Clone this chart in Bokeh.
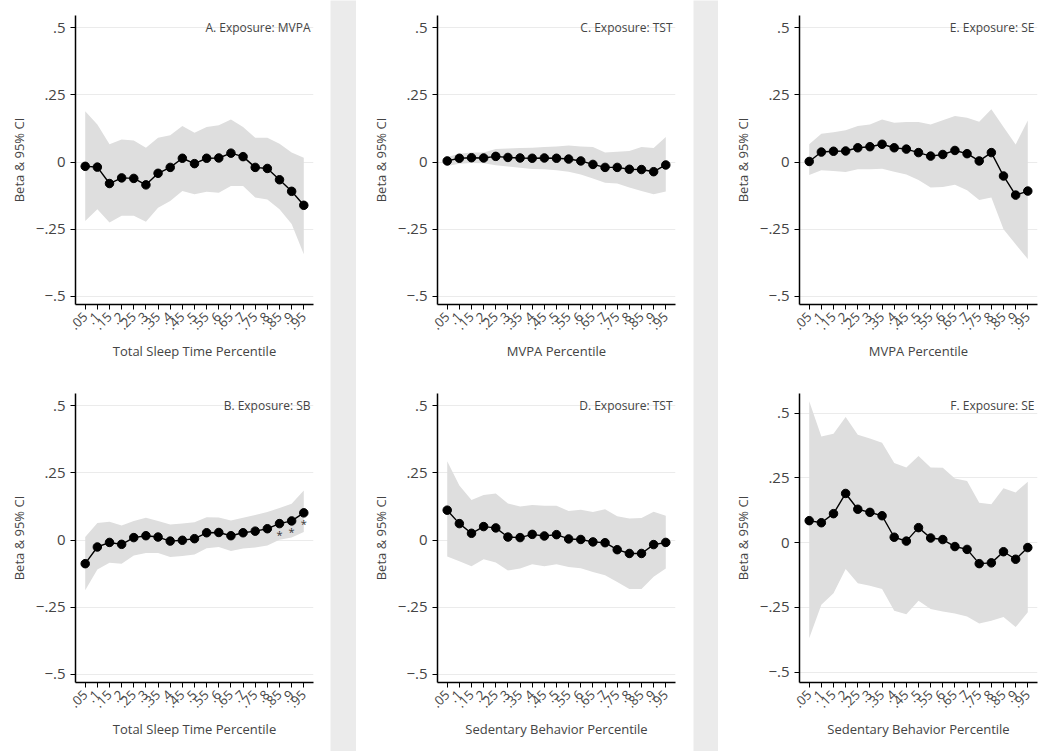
import math
from bokeh.plotting import figure
from bokeh.layouts import row, column
from bokeh.models import FixedTicker, CustomJSTickFormatter, Label, Range1d, ColumnDataSource
from bokeh.embed import file_html
from bokeh.resources import INLINE
from bokeh.core.properties import value
from bokeh.core.validation import silence
from bokeh.core.validation.warnings import MISSING_RENDERERS

silence(MISSING_RENDERERS, True)

# ---------------- data ----------------
percentiles = [0.05, 0.1, 0.15, 0.2, 0.25, 0.3, 0.35, 0.4, 0.45, 0.5,
               0.55, 0.6, 0.65, 0.7, 0.75, 0.8, 0.85, 0.9, 0.95]
x_tick_labels = [".05", ".1", ".15", ".2", ".25", ".3", ".35", ".4", ".45", ".5",
                 ".55", ".6", ".65", ".7", ".75", ".8", ".85", ".9", ".95"]
y_ticks = [-0.5, -0.25, 0.0, 0.25, 0.5]
y_tick_labels = ["\u2212.5", "\u2212.25", "0", ".25", ".5"]

# A. Exposure: MVPA  (outcome percentile: Total Sleep Time)
a_beta = [-0.016, -0.019, -0.080, -0.059, -0.061, -0.085, -0.042, -0.020, 0.014, -0.006,
          0.014, 0.015, 0.033, 0.020, -0.020, -0.024, -0.066, -0.109, -0.161]
a_hi = [0.189, 0.140, 0.066, 0.084, 0.080, 0.053, 0.090, 0.100, 0.134, 0.109,
        0.130, 0.137, 0.158, 0.130, 0.090, 0.090, 0.068, 0.035, 0.016]
a_lo = [-0.219, -0.176, -0.225, -0.200, -0.200, -0.222, -0.170, -0.145, -0.108, -0.120,
        -0.111, -0.114, -0.089, -0.089, -0.132, -0.139, -0.176, -0.231, -0.343]

# B. Exposure: SB  (outcome percentile: Total Sleep Time)
b_beta = [-0.088, -0.026, -0.009, -0.016, 0.009, 0.016, 0.011, -0.004, -0.001, 0.005,
          0.027, 0.028, 0.016, 0.027, 0.033, 0.042, 0.061, 0.071, 0.101]
b_hi = [0.011, 0.063, 0.068, 0.054, 0.071, 0.083, 0.071, 0.058, 0.061, 0.066,
        0.085, 0.084, 0.073, 0.083, 0.093, 0.104, 0.119, 0.135, 0.184]
b_lo = [-0.187, -0.110, -0.085, -0.088, -0.058, -0.048, -0.048, -0.063, -0.059, -0.054,
        -0.031, -0.026, -0.041, -0.032, -0.028, -0.020, 0.001, 0.009, 0.030]
b_sig = [0, 0, 0, 0, 0, 0, 0, 0, 0, 0, 0, 0, 0, 0, 0, 0, 1, 1, 1]

# C. Exposure: TST  (outcome percentile: MVPA)
c_beta = [0.004, 0.014, 0.016, 0.015, 0.021, 0.017, 0.015, 0.014, 0.015, 0.014,
          0.011, 0.004, -0.009, -0.020, -0.020, -0.027, -0.028, -0.036, -0.011]
c_hi = [0.019, 0.031, 0.035, 0.035, 0.048, 0.050, 0.052, 0.053, 0.056, 0.058,
        0.061, 0.058, 0.056, 0.035, 0.038, 0.041, 0.056, 0.052, 0.093]
c_lo = [-0.015, -0.006, -0.004, -0.005, -0.012, -0.017, -0.021, -0.026, -0.027, -0.031,
        -0.036, -0.046, -0.061, -0.077, -0.080, -0.095, -0.108, -0.120, -0.110]

# D. Exposure: TST  (outcome percentile: Sedentary Behavior)
d_beta = [0.111, 0.061, 0.025, 0.050, 0.045, 0.011, 0.009, 0.021, 0.015, 0.020,
          0.004, 0.002, -0.007, -0.010, -0.036, -0.050, -0.050, -0.017, -0.009]
d_hi = [0.293, 0.203, 0.149, 0.167, 0.173, 0.136, 0.125, 0.130, 0.127, 0.127,
        0.108, 0.113, 0.104, 0.114, 0.088, 0.080, 0.082, 0.105, 0.090]
d_lo = [-0.061, -0.079, -0.098, -0.072, -0.084, -0.113, -0.106, -0.090, -0.098, -0.090,
        -0.100, -0.105, -0.119, -0.131, -0.156, -0.182, -0.182, -0.137, -0.106]

# E. Exposure: SE  (outcome percentile: MVPA)
e_beta = [0.002, 0.037, 0.040, 0.041, 0.053, 0.057, 0.066, 0.053, 0.048, 0.035,
          0.022, 0.028, 0.043, 0.031, 0.004, 0.035, -0.052, -0.123, -0.108]
e_hi = [0.066, 0.105, 0.111, 0.118, 0.134, 0.140, 0.158, 0.146, 0.149, 0.149,
        0.140, 0.155, 0.171, 0.165, 0.150, 0.196, 0.130, 0.065, 0.154]
e_lo = [-0.048, -0.031, -0.033, -0.037, -0.027, -0.027, -0.025, -0.036, -0.046, -0.067,
        -0.095, -0.093, -0.085, -0.105, -0.141, -0.132, -0.250, -0.306, -0.361]

# F. Exposure: SE  (outcome percentile: Sedentary Behavior)
f_beta = [0.085, 0.077, 0.112, 0.190, 0.129, 0.117, 0.104, 0.021, 0.006, 0.058,
          0.018, 0.012, -0.015, -0.026, -0.081, -0.078, -0.035, -0.064, -0.019]
f_hi = [0.546, 0.410, 0.421, 0.485, 0.417, 0.402, 0.386, 0.308, 0.290, 0.335,
        0.290, 0.289, 0.248, 0.238, 0.154, 0.148, 0.210, 0.194, 0.235]
f_lo = [-0.369, -0.240, -0.195, -0.102, -0.157, -0.166, -0.179, -0.263, -0.276, -0.224,
        -0.256, -0.266, -0.274, -0.285, -0.312, -0.302, -0.287, -0.326, -0.269]

panel_titles = ["A. Exposure: MVPA", "B. Exposure: SB", "C. Exposure: TST",
                "D. Exposure: TST", "E. Exposure: SE", "F. Exposure: SE"]
x_titles = ["Total Sleep Time Percentile", "Total Sleep Time Percentile",
            "MVPA Percentile", "Sedentary Behavior Percentile",
            "MVPA Percentile", "Sedentary Behavior Percentile"]
y_title = "Beta & 95% CI"

# ---------------- styling ----------------
FONT = "Open Sans"
BAND = "#dedede"
GRID = "#ebebeb"
SEP = "#ebebeb"
X_RANGE = (0.01, 0.99)


def tick_formatter(tick_values, tick_labels):
    return CustomJSTickFormatter(args=dict(tvals=tick_values, tlabs=tick_labels), code="""
        let best = -1, d = 1e9;
        for (let i = 0; i < tvals.length; i++) {
            const e = Math.abs(tvals[i] - tick);
            if (e < d) { d = e; best = i; }
        }
        return d < 1e-6 ? tlabs[best] : '';
    """)


def make_panel(beta, lo, hi, title, xtitle, width, height, borders, yr, sig=None):
    left, right, top, bottom = borders
    p = figure(width=width, height=height, output_backend="svg", toolbar_location=None,
               x_range=Range1d(*X_RANGE), y_range=Range1d(*yr),
               min_border_left=left, min_border_right=right,
               min_border_top=top, min_border_bottom=bottom)
    p.outline_line_color = None

    src = ColumnDataSource(dict(x=percentiles, beta=beta, lo=lo, hi=hi))
    p.varea(x="x", y1="lo", y2="hi", source=src, fill_color=BAND)
    p.line(x="x", y="beta", source=src, line_color="black", line_width=1.4)
    p.scatter(x="x", y="beta", source=src, size=8.5, fill_color="black", line_color="black")

    if sig is not None:
        sx = [x for x, s in zip(percentiles, sig) if s]
        sy = [b for b, s in zip(beta, sig) if s]
        p.text(x=sx, y=sy, text=["*"] * len(sx), text_align="center", text_baseline="middle",
               y_offset=11, text_font=value(FONT), text_font_size="11px", text_color="#333333")

    # axes
    p.xaxis.ticker = FixedTicker(ticks=percentiles)
    p.yaxis.ticker = FixedTicker(ticks=y_ticks)
    p.xaxis.formatter = tick_formatter(percentiles, x_tick_labels)
    p.yaxis.formatter = tick_formatter(y_ticks, y_tick_labels)
    p.xaxis.major_label_orientation = math.pi / 4
    p.xaxis.axis_label = xtitle
    p.yaxis.axis_label = y_title
    p.xaxis.axis_line_color = "black"
    p.yaxis.axis_line_color = "black"
    p.xaxis.axis_line_width = 1.5
    p.yaxis.axis_line_width = 1.5
    p.xaxis.major_tick_in = 0
    p.yaxis.major_tick_in = 0
    p.xaxis.minor_tick_line_color = None
    p.yaxis.minor_tick_line_color = None
    p.xaxis.major_tick_out = 5
    p.yaxis.major_tick_out = 5
    p.xaxis.major_label_text_font = FONT
    p.yaxis.major_label_text_font = FONT
    p.xaxis.axis_label_text_font = FONT
    p.yaxis.axis_label_text_font = FONT
    p.xaxis.axis_label_text_font_style = "normal"
    p.yaxis.axis_label_text_font_style = "normal"
    p.xaxis.major_label_text_font_size = "13px"
    p.yaxis.major_label_text_font_size = "15px"
    p.add_layout(Label(x=X_RANGE[1], y=yr[1], x_offset=-3, y_offset=-12, text=title,
                       text_align="right", text_baseline="middle", text_font=FONT,
                       text_font_size="12px"))

    p.xgrid.grid_line_color = None
    p.ygrid.grid_line_color = GRID
    return p


Y_STD = (-0.53, 0.545)
Y_F = (-0.54, 0.576)

# borders: (left, right, top, bottom) around each plotting frame
pa = make_panel(a_beta, a_lo, a_hi, panel_titles[0], x_titles[0], 330, 375, (75, 17, 15, 71), Y_STD)
pb = make_panel(b_beta, b_lo, b_hi, panel_titles[1], x_titles[1], 330, 376, (75, 17, 18, 69), Y_STD, sig=b_sig)
pc = make_panel(c_beta, c_lo, c_hi, panel_titles[2], x_titles[2], 337, 375, (81, 18, 15, 71), Y_STD)
pd = make_panel(d_beta, d_lo, d_hi, panel_titles[3], x_titles[3], 337, 376, (81, 18, 18, 69), Y_STD)
pe = make_panel(e_beta, e_lo, e_hi, panel_titles[4], x_titles[4], 332, 375, (81, 13, 15, 71), Y_STD)
pf = make_panel(f_beta, f_lo, f_hi, panel_titles[5], x_titles[5], 332, 376, (81, 13, 18, 69), Y_F)


def separator(width):
    s = figure(width=width, height=751, output_backend="svg", toolbar_location=None,
               x_axis_type=None, y_axis_type=None, min_border=0,
               x_range=Range1d(0, 1), y_range=Range1d(0, 1))
    s.outline_line_color = None
    s.background_fill_color = SEP
    s.border_fill_color = SEP
    s.xgrid.grid_line_color = None
    s.ygrid.grid_line_color = None
    return s


layout = row(column(pa, pb, spacing=0), separator(26), column(pc, pd, spacing=0),
             separator(25), column(pe, pf, spacing=0), spacing=0)

open("out.html", "w").write(file_html(layout, INLINE))
